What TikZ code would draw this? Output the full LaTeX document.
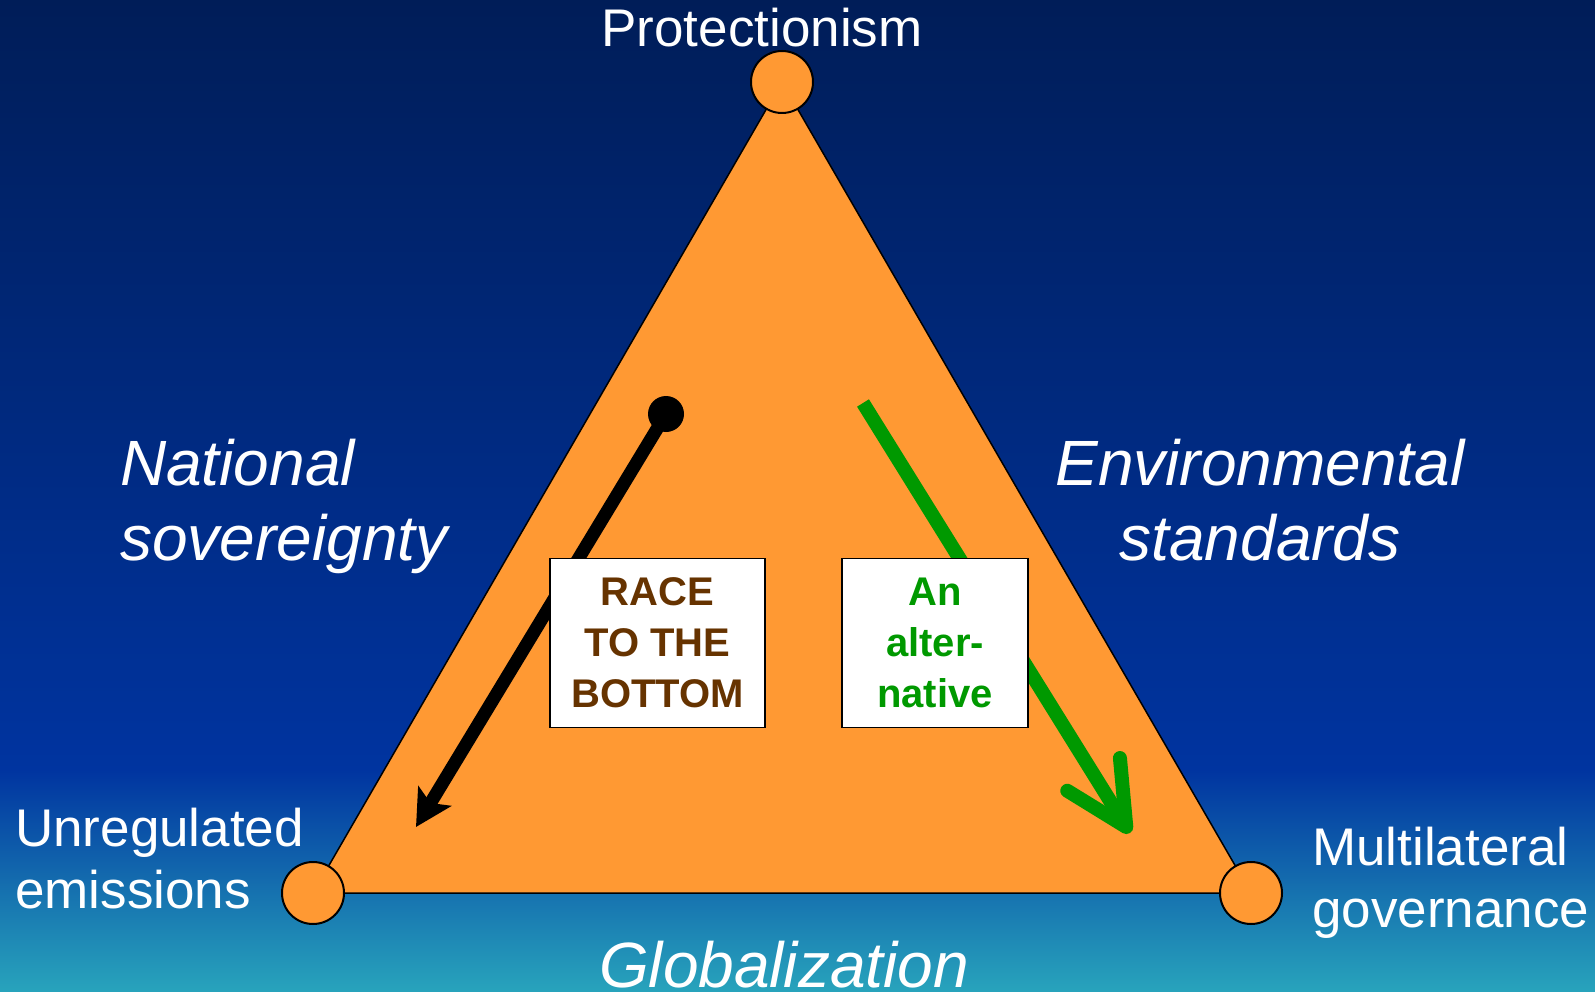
\documentclass[tikz,border=0pt]{standalone}
\usepackage{fontspec}
\setmainfont{Liberation Sans}
\usetikzlibrary{positioning,arrows.meta}
\definecolor{slideorange}{HTML}{FF9933}
\definecolor{racebrown}{HTML}{663300}
\definecolor{altgreen}{HTML}{009900}
\definecolor{skytop}{HTML}{001D58}
\definecolor{skymid}{HTML}{0034A0}
\definecolor{skylow}{HTML}{28A4BC}

\begin{document}
\begin{tikzpicture}[x=1pt,y=-1pt,
        vtx/.style={circle, draw, line width=2pt, fill=slideorange, minimum size=62pt, inner sep=0pt},
        corner/.style={text=white, align=left, inner sep=0pt, font=\fontsize{53}{61.5}\selectfont},
        side/.style={text=white, inner sep=0pt, font=\fontsize{64}{75}\selectfont\itshape},
        tag/.style={draw, line width=1.5pt, fill=white, minimum height=169pt, align=center, inner sep=0pt, font=\fontsize{40}{51}\selectfont\bfseries}]
            \useasboundingbox (0,0) rectangle (1595,992);
            % background
            \shade[top color=skytop, bottom color=skymid] (0,0) rectangle (1595,771);
            \shade[top color=skymid, bottom color=skylow] (0,770) rectangle (1595,992);
            % the triangle
            \coordinate (ptop) at (782,82);
            \coordinate (pleft) at (313,893);
            \coordinate (pright) at (1251,893);
            \draw[line width=1.5pt, fill=slideorange] (ptop) -- (pleft) -- (pright) -- cycle;
            \node[vtx] (top) at (ptop) {};
            \node[vtx] (left) at (pleft) {};
            \node[vtx] (right) at (pright) {};
            % corner and side labels (base = last line)
            \node[corner, anchor=base] (prot) at (762,47) {Protectionism};
            \node[corner, anchor=base west] (unreg) at (15,908) {Unregulated\\emissions};
            \node[corner, anchor=base west] (multi) at (1312,927) {Multilateral\\governance};
            \node[side, align=left, anchor=base west] (natsov) at (120,560) {National\\sovereignty};
            \node[side, align=center, anchor=base] (envstd) at (1260,560) {Environmental\\standards};
            \node[side, anchor=base] (glob) at (784,987) {Globalization};
            % the two paths
            \node[circle, fill=black, inner sep=0pt, minimum size=36pt] (racestart) at (666,414) {};
            \coordinate (raceend) at (416,827);
            \draw[line width=13pt, -{Stealth[length=36pt,width=38pt,inset=8pt]}] (racestart.center) -- (raceend);
            \coordinate (altstart) at (863,403);
            \coordinate (altend) at (1130,833);
            \draw[altgreen, line width=14pt, -{Straight Barb[length=62pt,width=62pt,round]}] (altstart) -- (altend);
            \node[tag, text=racebrown, minimum width=215pt] (race) at (657.5,643) {RACE\\TO THE\\BOTTOM};
            \node[tag, text=altgreen, minimum width=186pt] (alt) at (935,643) {An\\alter-\\native};
        \end{tikzpicture}
\end{document}
